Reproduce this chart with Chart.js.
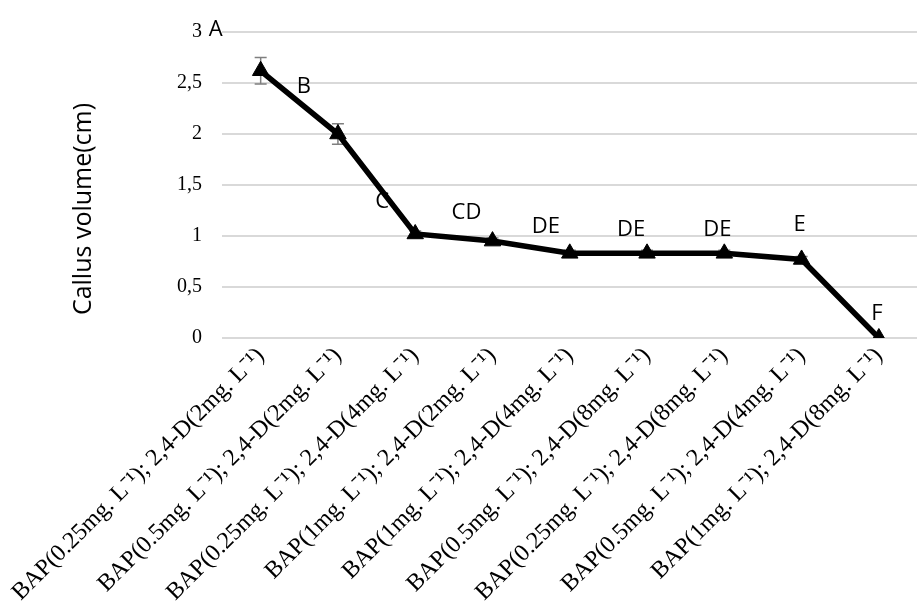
<!DOCTYPE html>
<html>
<head>
<meta charset="utf-8">
<script src="https://cdn.jsdelivr.net/npm/chart.js@4"></script>
<style>
  html, body { margin: 0; padding: 0; background: #fff; overflow: hidden; }
  #wrap { width: 917px; height: 615px; overflow: hidden; }
</style>
</head>
<body>
<div id="wrap"><canvas id="grafico" width="928" height="615"></canvas></div>
<script>
// datos del grafico
const tratamientos = [
  'BAP(0.25mg. L⁻¹); 2,4-D(2mg. L⁻¹)',
  'BAP(0.5mg. L⁻¹); 2,4-D(2mg. L⁻¹)',
  'BAP(0.25mg. L⁻¹); 2,4-D(4mg. L⁻¹)',
  'BAP(1mg. L⁻¹); 2,4-D(2mg. L⁻¹)',
  'BAP(1mg. L⁻¹); 2,4-D(4mg. L⁻¹)',
  'BAP(0.5mg. L⁻¹); 2,4-D(8mg. L⁻¹)',
  'BAP(0.25mg. L⁻¹); 2,4-D(8mg. L⁻¹)',
  'BAP(0.5mg. L⁻¹); 2,4-D(4mg. L⁻¹)',
  'BAP(1mg. L⁻¹); 2,4-D(8mg. L⁻¹)'
];
const volumen = [2.62, 2.0, 1.02, 0.95, 0.83, 0.83, 0.83, 0.77, 0];
const errores = [0.13, 0.1, 0.03, 0.03, 0.03, 0.03, 0.03, 0.03, 0];
const letras = ['A', 'B', 'C', 'CD', 'DE', 'DE', 'DE', 'E', 'F'];
const ticksY = [0, 0.5, 1, 1.5, 2, 2.5, 3];
const tituloY = 'Callus volume(cm)';

// desplazamiento de cada letra respecto a su punto (px)
const desplLetras = [[-45, -41], [-34, -47], [-33, -32], [-26, -28], [-24, -27], [-16, -24], [-7, -24], [-2, -35], [-2, -24]];

const barrasError = {
  id: 'barrasError',
  beforeDatasetsDraw(chart) {
    const ctx = chart.ctx;
    const meta = chart.getDatasetMeta(0);
    const y = chart.scales.y;
    ctx.save();
    ctx.strokeStyle = '#7f7f7f';
    ctx.lineWidth = 1.5;
    meta.data.forEach((p, i) => {
      if (!errores[i]) return;
      const top = y.getPixelForValue(volumen[i] + errores[i]);
      const bot = y.getPixelForValue(volumen[i] - errores[i]);
      ctx.beginPath();
      ctx.moveTo(p.x, top); ctx.lineTo(p.x, bot);
      ctx.moveTo(p.x - 6, top); ctx.lineTo(p.x + 6, top);
      ctx.moveTo(p.x - 6, bot); ctx.lineTo(p.x + 6, bot);
      ctx.stroke();
    });
    ctx.restore();
  }
};

const etiquetas = {
  id: 'etiquetas',
  afterDatasetsDraw(chart) {
    const ctx = chart.ctx;
    const meta = chart.getDatasetMeta(0);
    ctx.save();
    ctx.fillStyle = '#000';
    ctx.font = '22px "Open Sans"';
    ctx.textAlign = 'center';
    ctx.textBaseline = 'middle';
    meta.data.forEach((p, i) => {
      ctx.fillText(letras[i], p.x + desplLetras[i][0], p.y + desplLetras[i][1]);
    });
    // titulo del eje y
    ctx.translate(84, 209);
    ctx.rotate(-Math.PI / 2);
    ctx.font = '25px "Open Sans"';
    ctx.fillText(tituloY, 0, 0);
    ctx.restore();
  }
};

const grafico = document.getElementById('grafico');
const config = {
  type: 'line',
  data: {
    labels: tratamientos,
    datasets: [{
      data: volumen,
      borderColor: '#000',
      backgroundColor: '#000',
      borderWidth: 5.5,
      tension: 0,
      pointStyle: 'triangle',
      pointRadius: 9.5,
      pointBorderWidth: 1,
      pointBackgroundColor: '#000',
      pointBorderColor: '#000'
    }]
  },
  options: {
    responsive: false,
    animation: false,
    devicePixelRatio: 1,
    layout: { padding: { left: 0, top: 24, right: 0, bottom: 0 } },
    plugins: { legend: { display: false }, tooltip: { enabled: false } },
    scales: {
      x: {
        offset: true,
        grid: { display: false, drawTicks: false },
        border: { display: false },
        ticks: {
          autoSkip: false,
          maxRotation: 45,
          minRotation: 45,
          padding: 4,
          color: '#000',
          font: { family: '"Liberation Serif", "Times New Roman", serif', size: 24 }
        },
        afterFit(scale) { scale.height = 277; }
      },
      y: {
        min: 0,
        max: 3,
        afterBuildTicks(scale) { scale.ticks = ticksY.map(v => ({ value: v })); },
        grid: { color: '#d9d9d9', lineWidth: 2, drawTicks: false },
        border: { display: false },
        ticks: {
          padding: 20,
          color: '#000',
          font: { family: '"Liberation Serif", "Times New Roman", serif', size: 20 },
          callback: v => String(v).replace('.', ',')
        },
        afterFit(scale) { scale.width = 220; }
      }
    }
  },
  plugins: [barrasError, etiquetas]
};
new Chart(grafico, config);
</script>
</body>
</html>
